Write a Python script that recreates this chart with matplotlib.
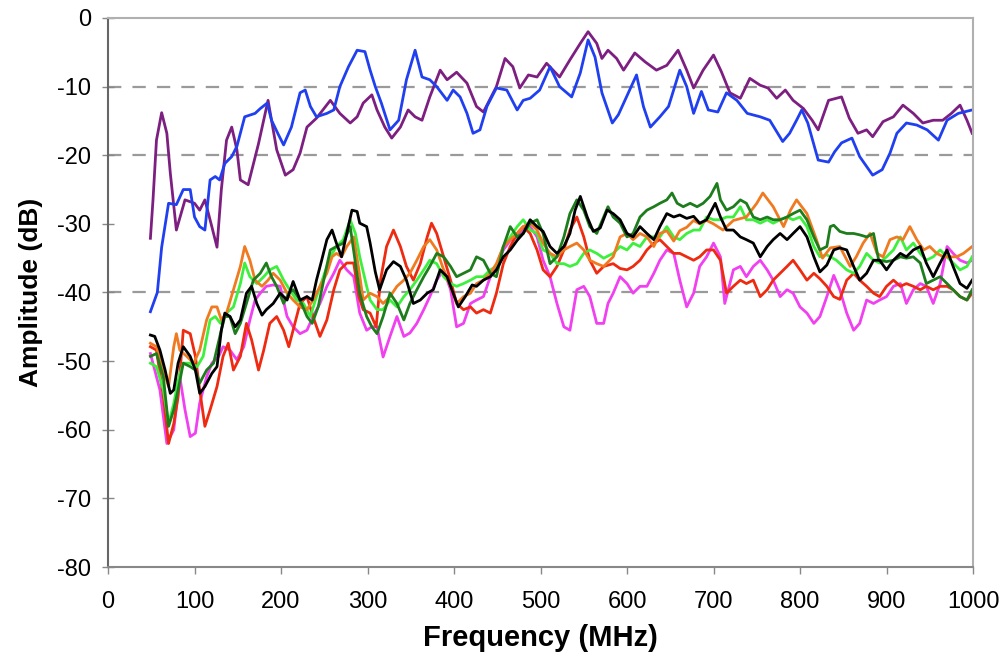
import matplotlib
matplotlib.use("Agg")
import matplotlib.pyplot as plt

# readings: frequency (MHz) and amplitude (dB) per trace
purple_f = [49, 52, 56, 62, 68, 72, 79, 89, 100, 106, 112, 120, 126, 131, 137, 143, 149, 153, 162, 174,
            185, 195, 205, 214, 222, 230, 241, 257, 268, 280, 288, 295, 305, 311, 320, 328, 338, 347, 355, 363,
            372, 384, 392, 403, 415, 426, 434, 449, 459, 468, 476, 486, 496, 507, 522, 534, 546, 555, 565, 571,
            578, 588, 596, 609, 621, 634, 646, 659, 669, 677, 688, 700, 709, 719, 731, 742, 754, 763, 773, 783,
            792, 804, 814, 821, 833, 848, 857, 867, 877, 884, 896, 908, 919, 931, 942, 954, 965, 975, 985, 993, 999]
purple_db = [-32.1, -26.5, -17.8, -13.8, -16.8, -22.6, -30.9, -26.5, -27.0, -28.0, -26.5, -30.4, -33.4, -25.0,
             -17.8, -15.9, -19.2, -23.6, -24.3, -18.3, -12.0, -19.2, -22.9, -22.1, -19.7, -15.9, -14.6, -12.0,
             -13.9, -15.3, -14.4, -12.4, -11.2, -13.4, -15.9, -17.5, -15.9, -13.4, -14.4, -14.9, -11.5, -7.6,
             -9.0, -7.9, -9.5, -12.9, -13.7, -10.0, -5.9, -7.1, -10.2, -8.3, -8.6, -6.6, -8.6, -6.1, -3.7, -2.0,
             -3.7, -5.9, -4.7, -5.9, -7.6, -5.1, -6.4, -7.6, -6.9, -4.7, -7.6, -10.2, -7.6, -5.4, -7.8, -10.9,
             -11.7, -8.8, -9.8, -10.2, -11.7, -10.5, -12.0, -13.2, -14.9, -16.3, -12.0, -11.5, -14.6, -16.8,
             -16.3, -17.3, -15.1, -14.4, -12.7, -13.9, -15.3, -14.9, -14.9, -13.9, -12.7, -14.9, -16.8]

blue_f = [49, 57, 62, 70, 79, 87, 95, 100, 106, 112, 118, 124, 129, 135, 143, 149, 158, 170, 176, 184, 189,
          197, 203, 212, 222, 228, 234, 241, 253, 261, 268, 278, 288, 297, 303, 309, 316, 326, 336, 345, 355,
          363, 372, 380, 392, 399, 407, 415, 422, 430, 438, 449, 461, 473, 480, 488, 499, 511, 522, 536, 546,
          555, 563, 571, 583, 590, 603, 611, 619, 627, 638, 648, 661, 669, 677, 686, 694, 705, 715, 727, 739,
          754, 765, 780, 788, 796, 802, 809, 821, 833, 840, 848, 860, 869, 884, 895, 904, 912, 923, 935, 947,
          960, 970, 983, 999]
blue_db = [-42.8, -40.0, -33.4, -27.0, -27.2, -25.0, -25.0, -29.0, -30.4, -30.9, -23.6, -23.1, -23.6, -21.2,
           -20.2, -18.7, -14.4, -13.9, -13.2, -12.4, -14.9, -17.0, -18.5, -15.9, -10.9, -10.5, -12.9, -14.4,
           -13.9, -13.4, -10.0, -7.1, -4.7, -4.9, -7.6, -10.0, -12.4, -16.3, -14.9, -9.0, -4.7, -8.6, -9.0,
           -10.0, -12.0, -10.5, -11.5, -13.9, -16.8, -16.3, -12.9, -10.2, -10.5, -13.4, -12.0, -11.7, -10.5,
           -7.1, -10.0, -11.5, -8.0, -3.2, -5.7, -10.9, -15.3, -14.1, -10.5, -8.3, -12.9, -15.9, -14.4, -12.9,
           -7.6, -10.0, -13.9, -10.7, -13.4, -13.7, -10.9, -12.0, -13.9, -14.4, -14.9, -18.0, -16.8, -14.9,
           -13.4, -15.3, -20.7, -21.0, -19.5, -18.2, -17.5, -20.2, -22.9, -22.1, -19.7, -16.8, -15.3, -15.6,
           -16.3, -17.8, -14.9, -13.9, -13.4]

magenta_f = [49, 60, 68, 76, 83, 89, 95, 101, 106, 114, 120, 128, 133, 141, 149, 157, 164, 170, 176, 183, 191,
             199, 207, 214, 222, 230, 237, 245, 253, 261, 268, 276, 284, 291, 299, 305, 311, 318, 326, 334, 342,
             349, 357, 365, 372, 380, 388, 396, 403, 411, 419, 426, 434, 442, 449, 457, 465, 473, 480, 488, 496,
             503, 511, 519, 527, 534, 542, 550, 557, 565, 573, 578, 584, 592, 600, 607, 615, 623, 631, 638, 646,
             654, 661, 669, 677, 684, 692, 700, 708, 713, 723, 731, 738, 746, 754, 762, 769, 777, 785, 792, 800,
             808, 816, 823, 831, 839, 846, 854, 862, 869, 877, 885, 892, 900, 908, 916, 923, 931, 939, 946, 954,
             962, 970, 977, 985, 993, 999]
magenta_db = [-48.9, -54.2, -62.0, -60.0, -52.3, -57.1, -61.0, -60.5, -56.1, -52.3, -50.3, -49.3, -47.9, -48.4,
              -49.8, -47.9, -44.0, -41.1, -40.1, -39.1, -38.9, -39.1, -43.5, -45.0, -46.0, -45.5, -43.5, -41.6,
              -39.1, -37.2, -35.3, -36.7, -37.7, -43.0, -45.5, -45.0, -45.0, -49.4, -46.4, -43.5, -46.4, -45.9,
              -44.5, -42.5, -40.6, -38.2, -36.7, -39.6, -45.0, -44.5, -41.6, -41.1, -40.6, -37.7, -36.2, -33.8,
              -32.4, -31.9, -30.9, -30.4, -31.9, -35.3, -37.7, -41.6, -45.0, -45.5, -39.6, -39.1, -40.6, -44.5,
              -44.5, -41.6, -40.1, -37.7, -38.7, -40.1, -39.1, -39.1, -37.2, -35.3, -33.8, -34.3, -38.2, -42.1,
              -40.1, -36.2, -34.8, -32.8, -34.8, -41.6, -36.7, -36.2, -37.7, -36.2, -35.3, -36.7, -38.2, -40.6,
              -39.6, -40.1, -42.1, -43.0, -44.5, -43.5, -40.6, -37.5, -39.6, -43.0, -45.5, -44.5, -41.1, -41.6,
              -41.1, -40.6, -39.1, -38.7, -41.6, -39.6, -38.7, -39.1, -41.6, -38.7, -33.3, -34.3, -35.3, -35.7,
              -35.3]

red_f = [49, 56, 64, 70, 76, 81, 87, 95, 101, 106, 112, 118, 126, 133, 139, 145, 153, 160, 166, 174, 180, 187,
         195, 203, 209, 214, 222, 230, 237, 245, 253, 261, 268, 276, 284, 290, 295, 303, 310, 315, 322, 330, 338,
         345, 353, 361, 369, 374, 380, 388, 396, 403, 411, 419, 426, 434, 442, 449, 457, 465, 473, 480, 488, 496,
         503, 511, 519, 527, 534, 542, 550, 557, 565, 573, 584, 592, 600, 607, 615, 623, 631, 638, 646, 654, 661,
         669, 677, 684, 692, 700, 708, 715, 723, 731, 738, 746, 754, 762, 769, 777, 785, 792, 800, 808, 816, 823,
         831, 839, 846, 854, 862, 869, 877, 885, 892, 900, 908, 916, 923, 931, 939, 946, 954, 962, 970, 977, 985,
         993, 999]
red_db = [-47.9, -48.4, -55.2, -62.0, -59.1, -55.2, -45.5, -46.0, -49.3, -54.2, -59.5, -57.1, -53.7, -49.3,
          -47.4, -51.3, -49.3, -44.5, -46.9, -51.3, -48.4, -44.5, -43.5, -45.5, -47.9, -45.5, -41.6, -40.6, -43.5,
          -46.4, -44.0, -39.6, -36.7, -35.7, -35.7, -40.6, -42.5, -43.0, -45.0, -38.2, -33.3, -30.9, -33.3, -36.2,
          -38.2, -35.8, -31.9, -29.9, -31.4, -34.8, -38.2, -41.6, -42.5, -42.1, -43.0, -42.5, -43.0, -40.1, -35.8,
          -33.3, -31.4, -30.4, -31.4, -33.8, -36.7, -37.7, -36.2, -33.8, -30.9, -29.0, -31.9, -35.3, -37.2, -36.2,
          -35.8, -36.5, -36.7, -36.2, -35.3, -33.8, -32.8, -32.3, -33.3, -34.3, -34.3, -34.8, -35.3, -34.8, -33.8,
          -33.8, -35.3, -40.1, -39.1, -38.2, -38.7, -38.2, -40.6, -39.6, -38.2, -37.2, -36.2, -35.3, -36.7, -38.2,
          -37.2, -38.0, -39.1, -40.6, -41.0, -38.2, -37.2, -38.2, -39.1, -40.1, -40.6, -39.1, -38.2, -39.1, -38.7,
          -39.1, -39.6, -39.1, -39.6, -39.1, -39.1, -39.6, -40.6, -41.1, -40.1]

lime_f = [49, 56, 64, 70, 76, 81, 87, 95, 103, 110, 118, 124, 130, 137, 145, 153, 158, 164, 172, 180, 187, 195,
          203, 210, 218, 226, 234, 241, 249, 257, 264, 272, 280, 286, 291, 299, 303, 311, 318, 326, 334, 342, 349,
          357, 365, 372, 380, 388, 396, 403, 411, 419, 426, 434, 442, 449, 457, 465, 473, 480, 488, 496, 503, 511,
          519, 527, 534, 542, 550, 557, 565, 573, 584, 592, 600, 607, 615, 623, 631, 638, 646, 654, 661, 669, 677,
          684, 692, 700, 708, 715, 723, 731, 738, 746, 754, 762, 769, 777, 785, 792, 800, 808, 816, 823, 831, 842,
          854, 862, 869, 877, 885, 892, 900, 908, 916, 923, 931, 939, 946, 954, 962, 970, 977, 985, 993, 999]
lime_db = [-50.3, -50.8, -54.2, -59.1, -56.2, -52.8, -50.3, -50.3, -50.8, -49.3, -44.0, -43.5, -44.5, -43.0,
           -42.1, -38.7, -35.7, -37.7, -38.7, -37.7, -36.7, -36.2, -38.2, -39.6, -41.1, -41.6, -43.5, -40.6, -37.7,
           -34.8, -33.3, -32.3, -29.4, -31.4, -34.8, -39.1, -41.1, -42.5, -42.5, -41.1, -42.1, -40.6, -39.6, -38.2,
           -36.7, -35.3, -35.8, -37.7, -38.7, -39.1, -38.7, -38.2, -37.7, -37.7, -36.7, -36.2, -33.3, -31.9, -30.4,
           -29.4, -30.9, -31.4, -33.8, -34.3, -35.8, -35.8, -36.2, -35.8, -34.3, -33.8, -34.3, -35.0, -34.3, -33.3,
           -33.8, -32.8, -33.3, -31.9, -31.9, -31.9, -30.4, -31.9, -32.3, -31.4, -30.9, -30.9, -29.0, -29.4, -29.4,
           -29.0, -29.0, -27.5, -29.4, -29.4, -29.9, -29.4, -29.9, -29.4, -29.0, -29.4, -29.0, -30.4, -33.3, -34.8,
           -34.5, -35.3, -36.7, -37.2, -36.2, -34.3, -35.3, -35.7, -34.8, -33.8, -31.9, -33.8, -32.8, -34.3, -35.3,
           -34.8, -33.8, -34.8, -35.7, -36.7, -36.2, -34.8]

orange_f = [49, 56, 64, 70, 76, 79, 83, 91, 99, 106, 114, 120, 126, 131, 137, 145, 153, 158, 164, 170, 178, 185,
            191, 199, 207, 214, 222, 230, 237, 245, 253, 259, 264, 270, 276, 284, 290, 295, 303, 311, 318, 326,
            334, 342, 349, 357, 365, 372, 380, 388, 396, 403, 411, 419, 426, 434, 442, 449, 457, 465, 473, 480,
            488, 496, 503, 511, 519, 527, 534, 542, 550, 557, 565, 573, 584, 592, 600, 607, 615, 623, 631, 638,
            646, 654, 661, 669, 677, 684, 692, 700, 711, 723, 738, 750, 757, 769, 781, 789, 796, 808, 819, 826,
            835, 846, 858, 865, 873, 881, 889, 896, 904, 912, 919, 927, 935, 943, 950, 958, 966, 973, 981, 989, 999]
orange_db = [-47.4, -47.9, -51.3, -53.7, -47.9, -46.0, -48.4, -49.3, -50.3, -48.4, -44.0, -42.1, -42.1, -44.0,
             -43.0, -39.6, -36.2, -33.3, -35.3, -38.2, -39.1, -38.2, -37.2, -38.2, -40.1, -41.1, -42.1, -42.5,
             -41.1, -39.1, -37.2, -34.8, -34.3, -34.8, -33.3, -31.9, -36.7, -41.1, -40.1, -40.6, -41.6, -40.6,
             -39.1, -38.2, -37.2, -35.3, -33.3, -32.3, -33.8, -36.7, -39.1, -41.6, -40.6, -40.1, -38.7, -38.2,
             -37.2, -35.8, -33.3, -32.3, -31.4, -30.4, -29.9, -30.9, -32.8, -34.3, -34.8, -33.8, -33.3, -32.8,
             -33.8, -35.3, -35.8, -36.2, -34.8, -31.9, -31.4, -32.3, -31.4, -31.9, -33.3, -31.4, -31.0, -32.5,
             -31.0, -30.5, -29.5, -30.0, -29.5, -30.0, -30.9, -29.5, -29.0, -27.0, -25.5, -27.5, -30.4, -28.0,
             -26.5, -28.5, -32.3, -35.0, -33.5, -33.3, -36.2, -34.8, -32.8, -31.4, -34.3, -34.8, -32.3, -31.9,
             -32.3, -30.4, -32.3, -33.8, -33.3, -34.3, -34.8, -34.8, -34.8, -34.3, -33.3]

green_f = [49, 56, 64, 70, 76, 81, 87, 95, 101, 106, 114, 122, 130, 135, 141, 147, 153, 160, 168, 176, 183, 189,
           195, 203, 209, 214, 222, 230, 236, 243, 251, 257, 264, 272, 280, 286, 291, 299, 305, 311, 318, 326, 334,
           342, 349, 357, 365, 372, 380, 388, 396, 403, 411, 419, 426, 434, 442, 449, 457, 465, 473, 480, 488, 496,
           503, 511, 519, 527, 534, 542, 550, 557, 565, 573, 578, 584, 592, 600, 607, 615, 623, 631, 638, 646, 652,
           658, 665, 673, 681, 688, 696, 704, 708, 715, 723, 731, 738, 746, 754, 762, 769, 777, 785, 792, 800, 808,
           816, 823, 831, 835, 839, 846, 854, 862, 869, 877, 885, 891, 900, 908, 916, 923, 931, 939, 946, 954, 962,
           970, 977, 985, 993, 999]
green_db = [-49.3, -48.9, -52.3, -59.5, -57.1, -54.2, -50.3, -50.8, -51.3, -53.2, -51.3, -50.3, -46.0, -43.5,
            -43.5, -46.0, -44.5, -41.6, -38.2, -37.2, -35.7, -37.7, -39.1, -41.6, -40.1, -39.6, -41.1, -43.5, -44.5,
            -42.1, -37.2, -33.8, -33.3, -32.8, -30.4, -35.7, -40.1, -43.5, -45.0, -46.0, -43.5, -40.1, -41.6, -44.0,
            -41.6, -39.6, -37.7, -36.2, -34.3, -34.8, -36.2, -37.7, -37.2, -36.7, -34.8, -35.3, -37.2, -37.7, -33.3,
            -30.4, -31.9, -31.4, -29.9, -29.4, -31.4, -35.8, -34.8, -31.9, -28.5, -26.5, -28.0, -30.4, -31.4, -29.0,
            -27.5, -29.0, -29.9, -31.9, -31.4, -29.0, -28.0, -27.5, -27.0, -26.5, -25.5, -27.0, -27.5, -27.0, -27.5,
            -27.0, -26.0, -24.1, -26.5, -28.0, -27.5, -26.5, -27.0, -29.0, -29.4, -29.0, -29.4, -29.4, -29.0, -28.5,
            -28.0, -29.4, -31.9, -33.8, -33.3, -30.4, -30.2, -31.1, -31.4, -31.4, -31.6, -31.9, -31.4, -35.3, -35.5,
            -35.3, -34.8, -35.0, -34.8, -35.7, -38.7, -38.2, -37.7, -38.7, -39.6, -40.6, -41.1, -39.6]

black_f = [49, 54, 60, 66, 72, 76, 81, 87, 95, 101, 106, 112, 120, 126, 131, 135, 141, 147, 153, 160, 166, 172,
           178, 183, 191, 199, 207, 214, 222, 230, 236, 241, 247, 253, 259, 264, 270, 276, 282, 288, 291, 299, 303,
           309, 314, 322, 330, 338, 345, 353, 361, 369, 376, 384, 392, 399, 405, 413, 421, 426, 434, 442, 449, 457,
           465, 473, 480, 488, 496, 503, 511, 519, 527, 534, 540, 546, 554, 561, 569, 577, 584, 592, 600, 607, 615,
           623, 631, 638, 646, 654, 661, 669, 677, 684, 692, 702, 708, 715, 723, 731, 738, 746, 754, 762, 769, 777,
           785, 792, 800, 808, 816, 823, 831, 839, 846, 854, 862, 869, 877, 885, 892, 900, 908, 916, 923, 931, 939,
           946, 954, 962, 970, 977, 985, 993, 999]
black_db = [-46.2, -46.4, -48.4, -51.3, -54.7, -54.2, -50.3, -47.9, -49.3, -51.3, -54.7, -53.7, -51.8, -50.8,
            -45.5, -43.0, -43.5, -45.0, -44.0, -40.1, -39.1, -41.6, -43.3, -42.5, -41.6, -40.1, -41.1, -38.4, -41.1,
            -40.6, -41.1, -38.2, -35.3, -32.3, -30.9, -32.8, -34.8, -31.4, -28.0, -28.2, -29.9, -30.4, -32.8, -37.0,
            -39.6, -36.7, -35.5, -36.2, -38.2, -41.6, -41.1, -40.1, -39.6, -36.7, -37.7, -40.1, -42.1, -40.6, -38.9,
            -39.1, -38.2, -37.7, -36.7, -34.8, -33.8, -32.4, -31.4, -29.4, -30.4, -31.1, -33.3, -34.3, -33.3, -31.4,
            -28.0, -26.0, -29.0, -31.1, -30.6, -28.0, -28.5, -29.4, -31.4, -31.9, -30.4, -31.4, -32.3, -30.4, -28.5,
            -29.0, -28.7, -29.2, -28.9, -29.9, -29.4, -27.0, -29.0, -30.9, -30.9, -31.9, -32.3, -32.8, -34.8, -33.3,
            -32.3, -31.4, -32.3, -31.4, -30.4, -31.9, -34.8, -37.0, -36.0, -33.8, -33.5, -33.8, -36.2, -38.2, -37.2,
            -35.3, -35.3, -36.7, -35.3, -34.3, -34.8, -33.8, -33.3, -35.7, -37.7, -35.7, -33.8, -36.2, -38.7, -39.4,
            -38.2]

x_ticks = [0, 100, 200, 300, 400, 500, 600, 700, 800, 900, 1000]
y_ticks = [0, -10, -20, -30, -40, -50, -60, -70, -80]
grid_levels = [-10, -20, -40]

plt.rcParams['font.family'] = ['Liberation Sans', 'DejaVu Sans']
plt.rcParams['axes.unicode_minus'] = False

fig = plt.figure(figsize=(10.03, 6.59), dpi=100)
ax = fig.add_axes([0.1077, 0.1396, 0.8624, 0.8331])

for g in grid_levels:
    ax.axhline(g, color='#9a9a9a', lw=1.6, dashes=(6, 5), zorder=1)

lw = 2.0
ax.plot(purple_f, purple_db, color='#7d1f80', lw=lw)
ax.plot(blue_f, blue_db, color='#1f3ff0', lw=lw)
ax.plot(magenta_f, magenta_db, color='#f040f0', lw=lw)
ax.plot(red_f, red_db, color='#ee2a10', lw=lw)
ax.plot(lime_f, lime_db, color='#3ef03e', lw=lw)
ax.plot(orange_f, orange_db, color='#f07a20', lw=lw)
ax.plot(green_f, green_db, color='#1d7d1d', lw=lw)
ax.plot(black_f, black_db, color='#000000', lw=lw)

ax.set_xlim(0, 1000)
ax.set_ylim(-80, 0)
ax.set_xticks(x_ticks)
ax.set_yticks(y_ticks)
ax.tick_params(axis='x', direction='out', length=5, width=1, color='#888888', labelsize=17, pad=12)
ax.tick_params(axis='y', direction='inout', length=8, width=1, color='#888888', labelsize=17, pad=8)

for side in ['top', 'right']:
    ax.spines[side].set_color('#b0b0b0')
    ax.spines[side].set_linewidth(1.5)
ax.spines['left'].set_color('#666666')
ax.spines['left'].set_linewidth(1.5)
ax.spines['bottom'].set_color('#888888')
ax.spines['bottom'].set_linewidth(1.5)

ax.set_xlabel('Frequency (MHz)', fontsize=21, fontweight='bold', labelpad=8)
ax.set_ylabel('Amplitude (dB)', fontsize=19, fontweight='bold', labelpad=10)

fig.savefig('out.png', dpi=100)
